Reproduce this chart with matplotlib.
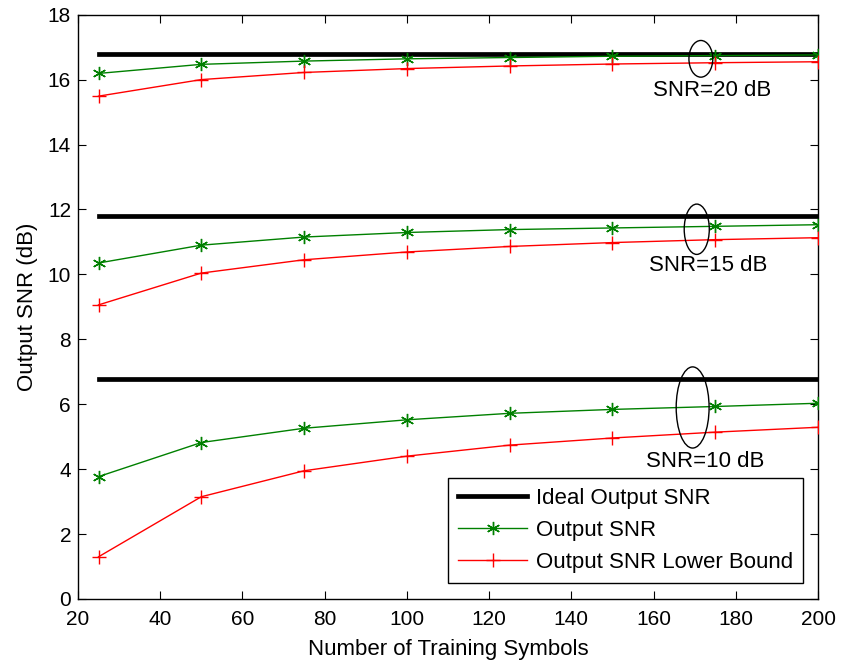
import matplotlib
matplotlib.use("Agg")
import matplotlib.pyplot as plt
from matplotlib.patches import Ellipse

plt.rcParams['font.family'] = ['Liberation Sans', 'DejaVu Sans']

n_train = [25, 50, 75, 100, 125, 150, 175, 200]
ideal = {"20": 16.78, "15": 11.79, "10": 6.77}
out_snr = {
    "20": [16.19, 16.47, 16.57, 16.64, 16.68, 16.72, 16.74, 16.76],
    "15": [10.35, 10.90, 11.15, 11.29, 11.38, 11.43, 11.48, 11.53],
    "10": [3.77, 4.82, 5.26, 5.52, 5.72, 5.84, 5.93, 6.03],
}
lower = {
    "20": [15.49, 16.00, 16.22, 16.34, 16.42, 16.48, 16.52, 16.55],
    "15": [9.06, 10.04, 10.45, 10.69, 10.86, 10.98, 11.07, 11.13],
    "10": [1.30, 3.15, 3.95, 4.40, 4.74, 4.96, 5.14, 5.29],
}
labels = {"20": "SNR=20 dB", "15": "SNR=15 dB", "10": "SNR=10 dB"}
# ellipse (x, y, width, height) and label position in data coords
ell = {"20": (171.5, 16.64, 5.8, 1.13), "15": (170.5, 11.39, 6.1, 1.55), "10": (169.5, 5.90, 8.0, 2.5)}
lab_pos = {"20": (174.2, 15.65), "15": (173.2, 10.27), "10": (172.5, 4.24)}

fig = plt.figure(figsize=(8.41, 6.61), dpi=100)
ax = fig.add_axes([0.0927, 0.0938, 0.880, 0.884])

for i, k in enumerate(["20", "15", "10"]):
    ax.plot([n_train[0], n_train[-1]], [ideal[k], ideal[k]], color='black', lw=3.4,
            label='Ideal Output SNR' if i == 0 else None, zorder=2)
    ax.plot(n_train, out_snr[k], color='#008000', lw=1.0, marker=(6, 2, 0), ms=9.5, mew=1.0,
            label='Output SNR' if i == 0 else None, zorder=3)
    ax.plot(n_train, lower[k], color='#ff0000', lw=1.0, marker='+', ms=10, mew=1.0,
            label='Output SNR Lower Bound' if i == 0 else None, zorder=3)
    ex, ey, ew, eh = ell[k]
    ax.add_patch(Ellipse((ex, ey), ew, eh, fill=False, edgecolor='black', lw=1.0, zorder=4))
    ax.text(lab_pos[k][0], lab_pos[k][1], labels[k], ha='center', va='center', fontsize=16)

ax.set_xlim(20, 200)
ax.set_ylim(0, 18)
ax.set_xticks(range(20, 201, 20))
ax.set_yticks(range(0, 19, 2))
ax.tick_params(direction='in', top=True, right=True, labelsize=15, length=6, width=0.8, pad=5)
ax.tick_params(axis='x', pad=8)
for s in ax.spines.values():
    s.set_linewidth(1.0)
ax.set_xlabel('Number of Training Symbols', fontsize=16, labelpad=7)
ax.set_ylabel('Output SNR (dB)', fontsize=16, labelpad=7)

leg = ax.legend(loc='lower right', fontsize=16, handlelength=3.1, handletextpad=0.4, fancybox=False,
                edgecolor='black', framealpha=1, borderpad=0.45, labelspacing=0.5, borderaxespad=0,
                bbox_to_anchor=(0.9797, 0.0273))
leg.get_frame().set_linewidth(1.0)

fig.savefig('out.png', dpi=100)
